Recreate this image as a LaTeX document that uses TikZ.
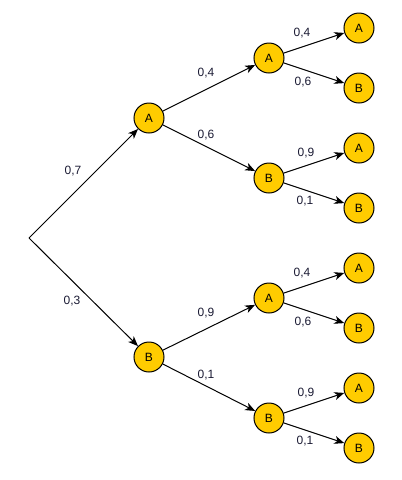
\documentclass[tikz,border=0pt]{standalone}
\usepackage{fontspec}
\setmainfont{Liberation Sans}
\usetikzlibrary{arrows.meta}
\definecolor{nodefill}{HTML}{FFCC00}
\definecolor{labtext}{HTML}{1A1A33}
\begin{document}
\begin{tikzpicture}[x=0.75pt,y=-0.75pt,
  ev/.style={circle,draw=black,line width=0.75pt,fill=nodefill,minimum size=22.5pt,inner sep=0pt,font=\fontsize{9}{10}\selectfont},
  br/.style={draw=black,line width=0.75pt,-{Stealth[length=7.5pt,width=6pt,inset=2.2pt]}},
  pl/.style={font=\fontsize{9}{10}\selectfont,text=labtext,inner sep=0pt}]
\useasboundingbox (0,0) rectangle (402,480);
\coordinate (r) at (29,238);
\node[ev] (a) at (149,118) {A};
\node[ev] (b) at (149,357) {B};
\node[ev] (aa) at (269,58) {A};
\node[ev] (ab) at (269,178) {B};
\node[ev] (ba) at (269,298) {A};
\node[ev] (bb) at (269,418) {B};
\node[ev] (aaa) at (359,28) {A};
\node[ev] (aab) at (359,88) {B};
\node[ev] (aba) at (359,148) {A};
\node[ev] (abb) at (359,208) {B};
\node[ev] (baa) at (359,268) {A};
\node[ev] (bab) at (359,328) {B};
\node[ev] (bba) at (359,388) {A};
\node[ev] (bbb) at (359,448) {B};
\draw[br] (r) -- (a);
\draw[br] (r) -- (b);
\draw[br] (a) -- (aa);
\draw[br] (a) -- (ab);
\draw[br] (b) -- (ba);
\draw[br] (b) -- (bb);
\draw[br] (aa) -- (aaa);
\draw[br] (aa) -- (aab);
\draw[br] (ab) -- (aba);
\draw[br] (ab) -- (abb);
\draw[br] (ba) -- (baa);
\draw[br] (ba) -- (bab);
\draw[br] (bb) -- (bba);
\draw[br] (bb) -- (bbb);
\node[pl] (l1) at (73,171) {0,7};
\node[pl] (l2) at (72,301) {0,3};
\node[pl] (l3) at (206,73) {0,4};
\node[pl] (l4) at (206,135) {0,6};
\node[pl] (l5) at (206,313) {0,9};
\node[pl] (l6) at (206,375) {0,1};
\node[pl] (l7) at (302,33) {0,4};
\node[pl] (l8) at (303,82) {0,6};
\node[pl] (l9) at (306,153) {0,9};
\node[pl] (l10) at (305,201) {0,1};
\node[pl] (l11) at (302,273) {0,4};
\node[pl] (l12) at (303,322) {0,6};
\node[pl] (l13) at (306,393) {0,9};
\node[pl] (l14) at (305,441) {0,1};
\end{tikzpicture}
\end{document}
